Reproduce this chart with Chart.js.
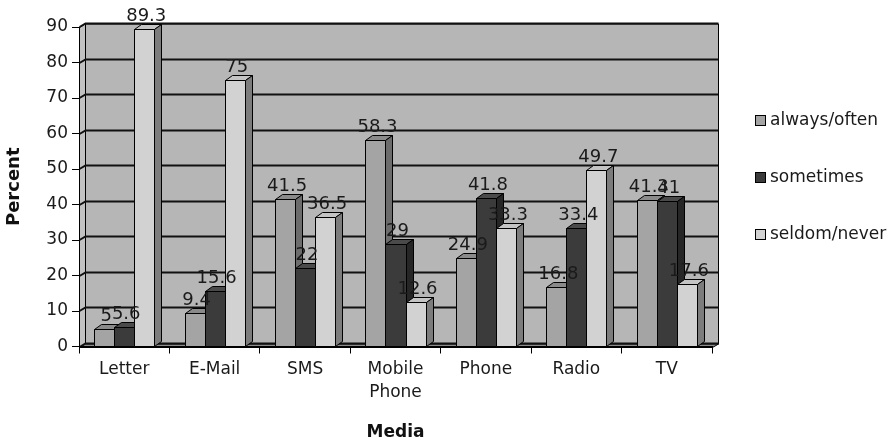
<!DOCTYPE html>
<html>
<head>
<meta charset="utf-8">
<script src="https://cdn.jsdelivr.net/npm/chart.js@4/dist/chart.umd.min.js"></script>
<style>
  html, body { margin: 0; padding: 0; background: #fff; }
  #wrap { position: relative; width: 894px; height: 443px; }
</style>
</head>
<body>
<div id="wrap"><canvas id="c" width="894" height="443"></canvas></div>
<script>
// Media usage by frequency (percent)
const categories = ['Letter', 'E-Mail', 'SMS', ['Mobile', 'Phone'], 'Phone', 'Radio', 'TV'];
const seriesNames = ['always/often', 'sometimes', 'seldom/never'];
const alwaysOften = [5, 9.4, 41.5, 58.3, 24.9, 16.8, 41.3];
const sometimes   = [5.6, 15.6, 22, 29, 41.8, 33.4, 41];
const seldomNever = [89.3, 75, 36.5, 12.6, 33.3, 49.7, 17.6];
const yMin = 0, yMax = 90, yStep = 10;
const xTitle = 'Media';
const yTitle = 'Percent';

// Styling
const FONT = 'DejaVu Sans';
const TEXT = '#1a1a1a';
const faces = [
  { front: '#a4a4a4', top: '#8a8a8a', side: '#6c6c6c' },
  { front: '#3b3b3b', top: '#4a4a4a', side: '#262626' },
  { front: '#d2d2d2', top: '#c4c4c4', side: '#7c7c7c' }
];
const WALL = { back: '#b6b6b6', side: '#c2c2c2', floor: '#8c8c8c', dx: 6, dy: 3.5 };
const BAR_DEPTH = { dx: 7, dy: 5 };

function poly(ctx, pts, fill) {
  ctx.beginPath();
  ctx.moveTo(pts[0][0], pts[0][1]);
  for (let i = 1; i < pts.length; i++) ctx.lineTo(pts[i][0], pts[i][1]);
  ctx.closePath();
  if (fill) { ctx.fillStyle = fill; ctx.fill(); }
  ctx.stroke();
}

// Back wall, side wall, floor and gridlines of the 3-D box
const wallPlugin = {
  id: 'wall3d',
  beforeDraw(chart) {
    const { ctx, chartArea: a, scales: { y } } = chart;
    const { dx, dy } = WALL;
    const L = Math.round(a.left) + 0.5, R = Math.round(a.right) + 0.5;
    const T = Math.round(a.top) + 0.5, B = Math.round(a.bottom) + 0.5;
    ctx.save();
    ctx.lineWidth = 1;
    ctx.strokeStyle = '#000';
    poly(ctx, [[L + dx, T - dy], [R + dx, T - dy], [R + dx, B - dy], [L + dx, B - dy]], WALL.back);
    poly(ctx, [[L, B], [L, T], [L + dx, T - dy], [L + dx, B - dy]], WALL.side);
    poly(ctx, [[L, B], [R, B], [R + dx, B - dy], [L + dx, B - dy]], WALL.floor);
    ctx.lineWidth = 2;
    ctx.strokeStyle = '#111';
    y.ticks.forEach(t => {
      const py = Math.round(y.getPixelForValue(t.value));
      ctx.beginPath();
      ctx.moveTo(L, py);
      ctx.lineTo(L + dx, py - dy);
      ctx.lineTo(R + dx, py - dy);
      ctx.stroke();
    });
    ctx.restore();
  }
};

// 3-D columns with their value labels on top
const barsPlugin = {
  id: 'bars3d',
  beforeDatasetsDraw(chart) {
    const { ctx } = chart;
    const { dx, dy } = BAR_DEPTH;
    const nSets = chart.data.datasets.length;
    const nCats = chart.data.labels.length;
    const geom = (d, i) => {
      const el = chart.getDatasetMeta(d).data[i];
      const p = el.getProps(['x', 'y', 'base', 'width'], true);
      return {
        x0: Math.round(p.x - p.width / 2) + 0.5,
        x1: Math.round(p.x + p.width / 2) + 0.5,
        y: Math.round(p.y) + 0.5,
        b: Math.round(p.base) + 0.5,
        cx: p.x
      };
    };
    ctx.save();
    ctx.lineWidth = 1;
    ctx.strokeStyle = '#000';
    ctx.lineJoin = 'miter';
    for (let i = 0; i < nCats; i++) {
      for (let d = 0; d < nSets; d++) {
        const g = geom(d, i);
        const f = faces[d];
        poly(ctx, [[g.x0, g.y], [g.x1, g.y], [g.x1, g.b], [g.x0, g.b]], f.front);
        poly(ctx, [[g.x0, g.y], [g.x0 + dx, g.y - dy], [g.x1 + dx, g.y - dy], [g.x1, g.y]], f.top);
        poly(ctx, [[g.x1, g.y], [g.x1 + dx, g.y - dy], [g.x1 + dx, g.b - dy], [g.x1, g.b]], f.side);
      }
    }
    ctx.font = '18px "' + FONT + '"';
    ctx.fillStyle = TEXT;
    ctx.textAlign = 'center';
    ctx.textBaseline = 'alphabetic';
    for (let d = 0; d < nSets; d++) {
      const vals = chart.data.datasets[d].data;
      for (let i = 0; i < nCats; i++) {
        const g = geom(d, i);
        ctx.fillText(String(vals[i]), g.cx + 2, g.y - dy - 4);
      }
    }
    ctx.restore();
    return false;
  }
};

// Legend on the right
const legendPlugin = {
  id: 'sideLegend',
  afterDraw(chart) {
    const { ctx, chartArea: a } = chart;
    const x = Math.round(a.right) + 43;
    const spacing = 57;
    const y0 = 120;
    ctx.save();
    ctx.font = '17px "' + FONT + '"';
    ctx.textAlign = 'left';
    ctx.textBaseline = 'middle';
    ctx.lineWidth = 1;
    ctx.strokeStyle = '#000';
    chart.data.datasets.forEach((ds, d) => {
      const cy = y0 + d * spacing;
      ctx.fillStyle = faces[d].front;
      ctx.fillRect(x + 0.5, Math.round(cy - 5) + 0.5, 10, 10);
      ctx.strokeRect(x + 0.5, Math.round(cy - 5) + 0.5, 10, 10);
      ctx.fillStyle = TEXT;
      ctx.fillText(ds.label, x + 15, cy + 1);
    });
    ctx.restore();
  }
};

new Chart(document.getElementById('c'), {
  type: 'bar',
  data: {
    labels: categories,
    datasets: [
      { label: seriesNames[0], data: alwaysOften, backgroundColor: faces[0].front },
      { label: seriesNames[1], data: sometimes, backgroundColor: faces[1].front },
      { label: seriesNames[2], data: seldomNever, backgroundColor: faces[2].front }
    ]
  },
  options: {
    responsive: false,
    animation: false,
    devicePixelRatio: 1,
    layout: { padding: { left: 0, top: 27, right: 182, bottom: 0 } },
    datasets: { bar: { categoryPercentage: 0.664, barPercentage: 1 } },
    plugins: { legend: { display: false }, tooltip: { enabled: false } },
    scales: {
      x: {
        offset: true,
        grid: { offset: true, drawOnChartArea: false, drawTicks: true, tickLength: 7, color: '#000', lineWidth: 1 },
        border: { color: '#000', width: 1 },
        ticks: { font: { family: FONT, size: 17, lineHeight: 1.35 }, color: TEXT, padding: 5, maxRotation: 0, autoSkip: false },
        title: { display: true, text: xTitle, color: '#111', font: { family: FONT, size: 17, weight: 'bold' }, padding: { top: 0, bottom: 0 } },
        afterFit(s) { s.height = 96.5; }
      },
      y: {
        min: yMin, max: yMax,
        grid: { drawOnChartArea: false, drawTicks: true, tickLength: 7, color: '#000', lineWidth: 1 },
        border: { color: '#000', width: 1 },
        ticks: { stepSize: yStep, font: { family: FONT, size: 17 }, color: TEXT, padding: 4 },
        title: { display: true, text: yTitle, color: '#111', font: { family: FONT, size: 18, weight: 'bold' }, padding: { top: 4, bottom: 0 } },
        afterFit(s) { s.width = 79; }
      }
    }
  },
  plugins: [wallPlugin, barsPlugin, legendPlugin]
});
</script>
</body>
</html>
